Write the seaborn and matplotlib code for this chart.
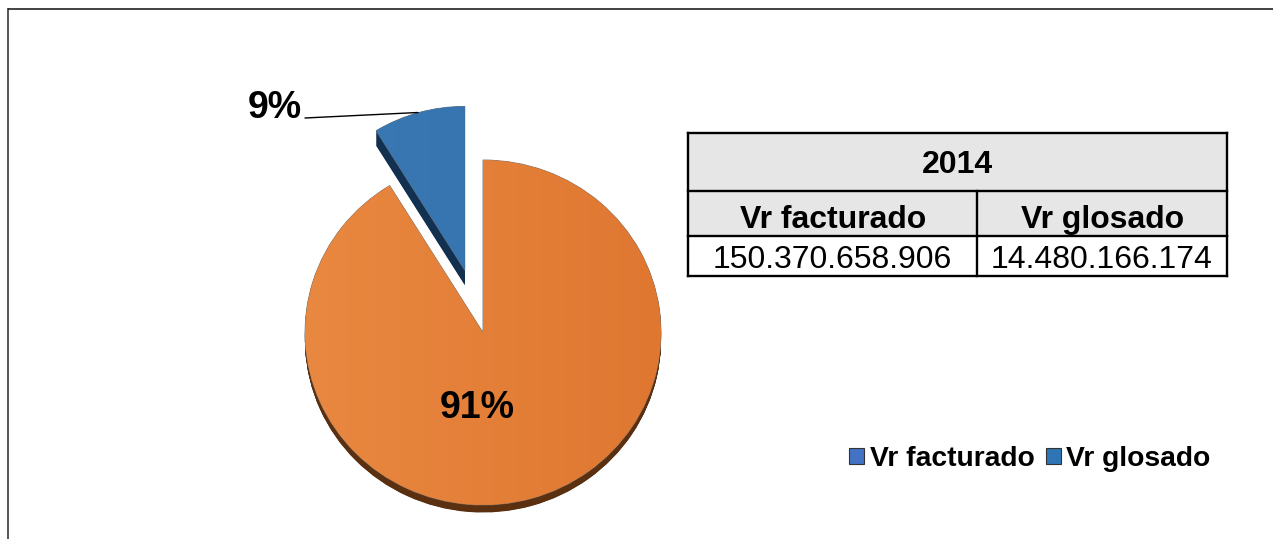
import numpy as np
import matplotlib
matplotlib.use("Agg")
import matplotlib.pyplot as plt
from matplotlib.patches import Patch, Rectangle
from matplotlib.colors import LinearSegmentedColormap
import seaborn as sns

# ---- data ----
categories = ["Vr facturado", "Vr glosado"]
values = [150370658906, 14480166174]
table_title = "2014"
table_values = ["150.370.658.906", "14.480.166.174"]

# ---- style ----
sns.set_theme(style="white")
plt.rcParams["font.family"] = ["Liberation Sans", "DejaVu Sans"]
W, H = 1273, 539
face_cols = ["#E27A34", "#3574B0"]
side_cols = ["#5A3011", "#12304F"]
legend_cols = sns.color_palette(["#4472C4", "#2E75B6"])
gradients = [("#E98840", "#DF7731"), ("#3C7AB6", "#3270AC")]

fig = plt.figure(figsize=(W / 100, H / 100), dpi=100, facecolor="white")

# ---- pie axes: one data unit = RX px wide and RY px high ----
CX, CY, RX, RY = 483, 332.5, 178, 172.5
SPAN = 1.55
ax = fig.add_axes([(CX - SPAN * RX) / W, 1 - (CY + SPAN * RY) / H,
                   2 * SPAN * RX / W, 2 * SPAN * RY / H])

explode = [0, 0.375]
common = dict(explode=explode, startangle=90, counterclock=False, radius=1)
BLUE_R = 0.95
DEPTH_PX = [7.5, 15]

# extruded side of the slices: a stack of copies sliding downwards
for t in np.linspace(1, 0.05, 20):
    side, _ = ax.pie(values, colors=side_cols,
                     wedgeprops=dict(linewidth=0, edgecolor="none"), **common)
    for w, d in zip(side, DEPTH_PX):
        cx, cy = w.center
        w.set_center((cx, cy - t * d / RY))
    side[1].set_radius(BLUE_R)

wedges, _, pct = ax.pie(values, colors=face_cols, autopct="%1.0f%%",
                        wedgeprops=dict(edgecolor="#6E6E6E", linewidth=0.6),
                        textprops=dict(fontsize=27, fontweight="bold", color="black"),
                        **common)
wedges[1].set_radius(BLUE_R)
ax.set_aspect("auto")

# soft left-to-right shading clipped to each slice
for w, (c0, c1) in zip(wedges, gradients):
    cmap = LinearSegmentedColormap.from_list("g", [c0, c1])
    cx, cy = w.center
    im = ax.imshow(np.linspace(0, 1, 256).reshape(1, -1), cmap=cmap, aspect="auto",
                   extent=[cx - 1, cx + 1, cy - 1, cy + 1], zorder=w.get_zorder() + 0.01)
    im.set_clip_path(w)
ax.set_xlim(-SPAN, SPAN)
ax.set_ylim(-SPAN, SPAN)

def to_unit(px, py):
    return (px - CX) / RX, (CY - py) / RY

pct[0].set_position(to_unit(477, 408))
pct[1].set_position(to_unit(275, 108))
pct[0].set_zorder(20)
pct[1].set_zorder(20)

# ---- overlay in pixel coordinates ----
ov = fig.add_axes([0, 0, 1, 1], facecolor="none")
ov.set_xlim(0, W)
ov.set_ylim(H, 0)
ov.axis("off")

# frame of the chart area
ov.plot([8, 8], [8, H], color="#555555", lw=1.4, solid_capstyle="butt")
ov.plot([8, W], [8.5, 8.5], color="#222222", lw=1.2, solid_capstyle="butt")

# leader line of the small slice
ov.plot([305, 418], [118, 112.5], color="black", lw=1.0)

# table
x0, xm, x1 = 688, 977, 1227
y0, y1, y2, y3 = 133, 191, 236, 276
ov.add_patch(Rectangle((x0, y0), x1 - x0, y2 - y0, fc="#E6E6E6", ec="none"))
line = dict(color="black", lw=1.7, solid_capstyle="projecting")
for y in (y0, y1, y2, y3):
    ov.plot([x0, x1], [y, y], **line)
ov.plot([x0, x0], [y0, y3], **line)
ov.plot([x1, x1], [y0, y3], **line)
ov.plot([xm, xm], [y1, y3], **line)
ctr = dict(ha="center", va="center", color="black")
ov.text((x0 + x1) / 2, 165, table_title, fontsize=23, fontweight="bold", **ctr)
ov.text((x0 + xm) / 2 + 0.5, 220, categories[0], fontsize=23, fontweight="bold", **ctr)
ov.text((xm + x1) / 2 + 1, 220, categories[1], fontsize=23, fontweight="bold", **ctr)
ov.text((x0 + xm) / 2, 260, table_values[0], fontsize=23, **ctr)
ov.text((xm + x1) / 2, 260, table_values[1], fontsize=23, **ctr)

# legend
handles = [Patch(facecolor=c, edgecolor="#333333", linewidth=0.8) for c in legend_cols]
ov.legend(handles, categories, loc="center left", bbox_to_anchor=(849 / W, 1 - 459 / H),
          bbox_transform=fig.transFigure, ncols=2, frameon=False, borderpad=0, borderaxespad=0,
          handlelength=0.53, handleheight=0.53, handletextpad=0.2, columnspacing=0.4,
          labelcolor="black", prop=dict(size=20.3, weight="bold"))

fig.savefig("out.png", dpi=100, facecolor="white")
